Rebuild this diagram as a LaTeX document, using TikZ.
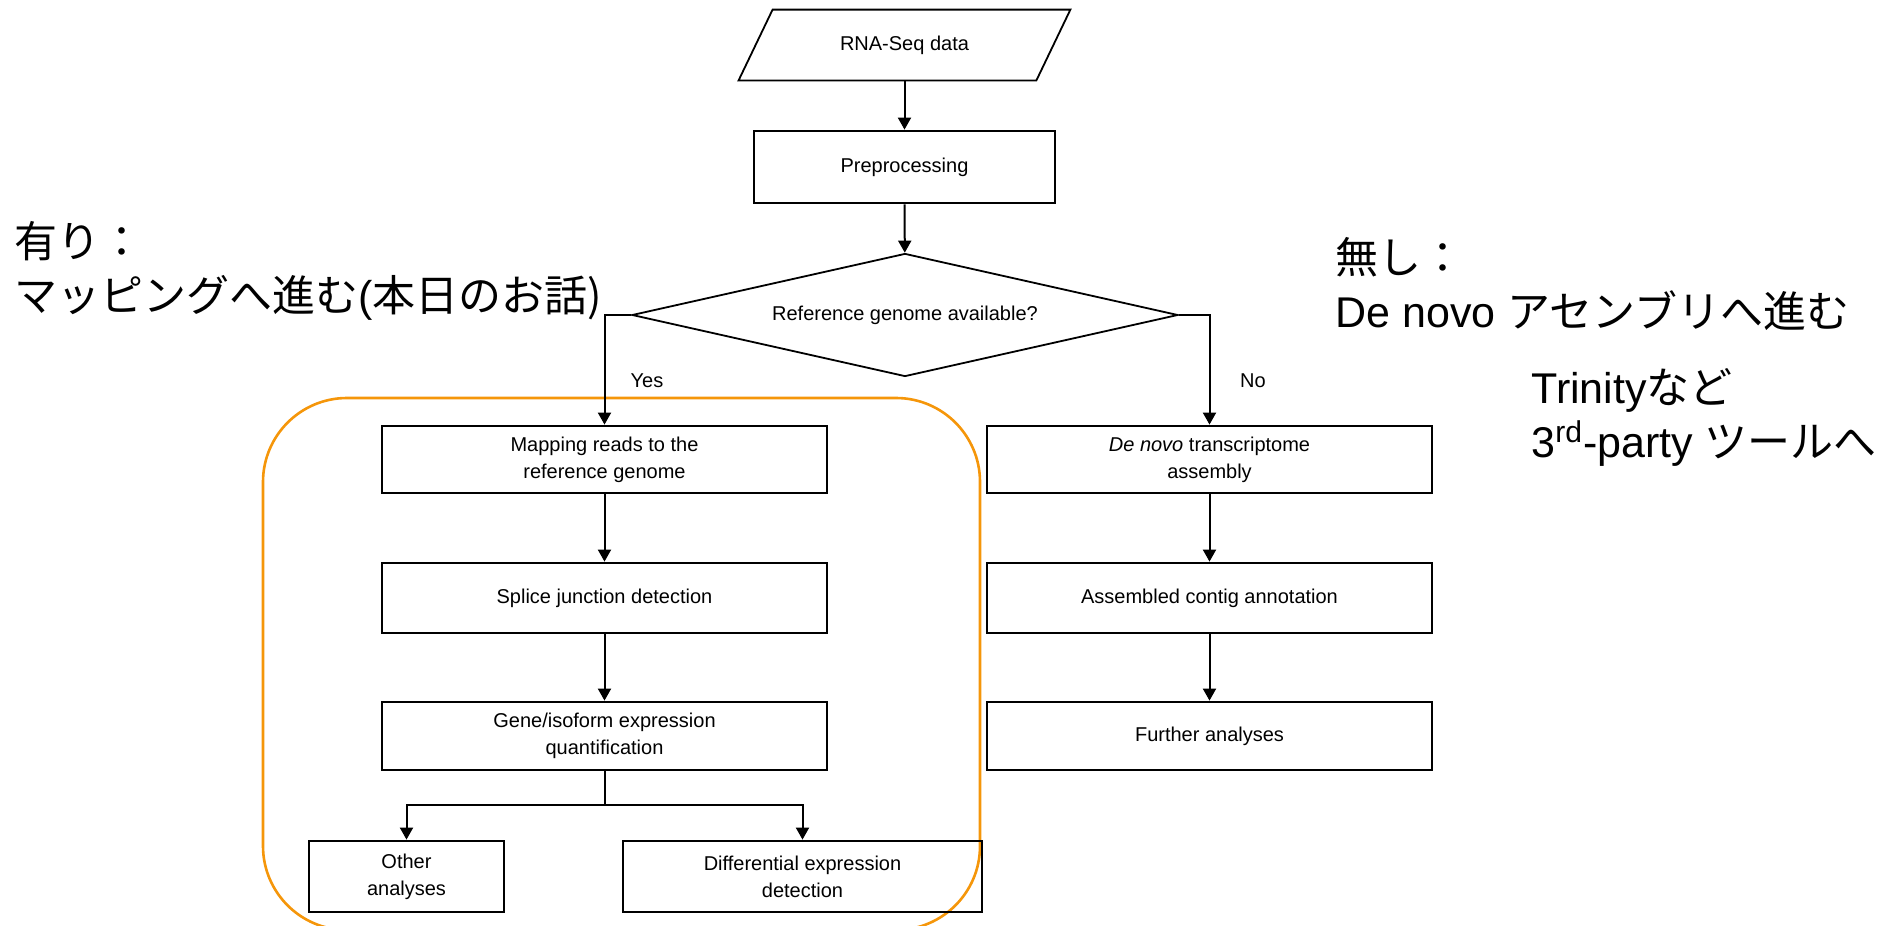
\documentclass[tikz,border=0pt]{standalone}
\usepackage{fontspec}
\setmainfont{Liberation Sans}
\newfontfamily\jpfont{Noto Sans CJK JP}
\usetikzlibrary{shapes.geometric,arrows.meta,calc}
\definecolor{hlorange}{RGB}{245,150,10}

\begin{document}
\begin{tikzpicture}[x=0.5pt,y=-0.5pt,
  box/.style={draw, line width=1.4pt, minimum width=222.5pt, inner sep=0pt,
              align=center, font=\fontsize{10}{13.5}\selectfont},
  thinshape/.style={draw, line width=0.9pt},
  arr/.style={-{Triangle[length=6pt,width=6.5pt]}, line width=1pt},
  link/.style={line width=1pt},
  note/.style={anchor=west, align=left, inner sep=0pt,
               font=\fontsize{21.5}{27}\selectfont},
  lbl/.style={inner sep=0pt, font=\fontsize{10}{12}\selectfont}]
\useasboundingbox (0,0) rectangle (1892,926);

% highlight frame around the reference-based branch
\draw[hlorange, line width=1.3pt, rounded corners=42pt] (263,398) rectangle (980,930);

% input data (parallelogram)
\node (data) [inner sep=0pt, minimum width=165.5pt, minimum height=35pt,
      font=\fontsize{10}{12}\selectfont] at (904.5,45) {RNA-Seq data};
\draw[thinshape] (data.south west) -- ($(data.north west)+(34,0)$)
      -- (data.north east) -- ($(data.south east)+(-34,0)$) -- cycle;

\node (pre) [box, minimum width=150.5pt, minimum height=36pt] at (904.5,167) {Preprocessing};

\node (dia) [diamond, thinshape, aspect=4.4, inner sep=0pt,
      minimum width=273pt, minimum height=61.5pt,
      font=\fontsize{10}{12}\selectfont] at (905,315) {Reference genome available?};

% reference-based branch
\node (map)  [box, minimum height=33.5pt] at (604.5,459.5) {Mapping reads to the\\reference genome};
\node (spl)  [box, minimum height=35pt]   at (604.5,598)   {Splice junction detection};
\node (gene) [box, minimum height=34pt]   at (604.5,736)   {Gene/isoform expression\\quantification};
\node (oth)  [box, minimum width=97.5pt, minimum height=35.5pt]  at (406.5,876.5) {Other\\analyses};
\node (diff) [box, minimum width=179.5pt, minimum height=35.5pt] at (802.5,876.5) {Differential expression\\detection};

% de novo branch
\node (dn)  [box, minimum height=33.5pt] at (1209.5,459.5) {\textit{De novo} transcriptome\\assembly};
\node (asm) [box, minimum height=35pt]   at (1209.5,598)   {Assembled contig annotation};
\node (fur) [box, minimum height=34pt]   at (1209.5,736)   {Further analyses};

% connectors
\draw[arr] (data) -- (pre);
\draw[arr] (pre) -- (dia);
\draw[arr] (dia.west) -| (map.north);
\draw[arr] (dia.east) -| (dn.north);
\draw[arr] (map) -- (spl);
\draw[arr] (spl) -- (gene);
\coordinate (br) at ($(gene.south)+(0,34)$);
\draw[link] (gene.south) -- (br);
\draw[arr] (br) -| (oth.north);
\draw[arr] (br) -| (diff.north);
\draw[arr] (dn) -- (asm);
\draw[arr] (asm) -- (fur);

\node (yes) [lbl] at (647,381) {Yes};
\node (no)  [lbl] at (1253,381) {No};

% annotations
\node (withref) [note] at (14,271) {{\jpfont 有り：}\\{\jpfont マッピングへ進む}(\jpfont 本日のお話)};
\node (noref) [note] at (1335,283.5) {{\jpfont 無し：}\\De novo {\jpfont アセンブリへ進む}};
\node (tools) [note] at (1531,417.5) {Trinity{\jpfont など}\\3\textsuperscript{rd}-party {\jpfont ツールへ}};
\end{tikzpicture}
\end{document}
